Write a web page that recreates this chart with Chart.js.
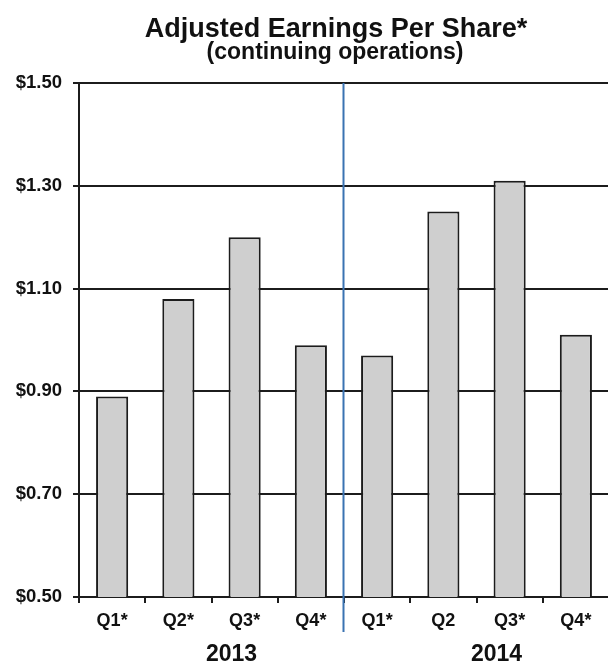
<!DOCTYPE html>
<html><head><meta charset="utf-8">
<script src="https://cdn.jsdelivr.net/npm/chart.js@4/dist/chart.umd.min.js"></script>
<style>
html,body{margin:0;padding:0;overflow:hidden;background:#fff}
#wrap{position:absolute;left:0;top:0;width:610px;height:663px}
</style>
</head><body>
<div id="wrap"><canvas id="c"></canvas></div>
<script>
const categories = ['Q1*','Q2*','Q3*','Q4*','Q1*','Q2','Q3*','Q4*'];
const years = ['2013','2014'];
const eps = [0.89, 1.08, 1.20, 0.99, 0.97, 1.25, 1.31, 1.01];
const yMin = 0.5, yMax = 1.5, yStep = 0.2;
const titleText = 'Adjusted Earnings Per Share*';
const subtitleText = '(continuing operations)';

const FONT = '"Liberation Sans", Arial, Helvetica, sans-serif';
const INK = '#1c1c1c';

const overlay = {
  id: 'overlay',
  afterDraw(chart) {
    const { ctx, chartArea, scales } = chart;
    const px = Math.round(scales.x.getPixelForValue(3.5)) - 0.5;
    ctx.save();
    ctx.strokeStyle = '#3a73b2';
    ctx.lineWidth = 2;
    ctx.beginPath();
    ctx.moveTo(px, chartArea.top);
    ctx.lineTo(px, chartArea.bottom + 35);
    ctx.stroke();
    ctx.fillStyle = '#111';
    ctx.textAlign = 'center';
    ctx.textBaseline = 'alphabetic';
    ctx.font = 'bold 27px ' + FONT;
    ctx.fillText(titleText, 336, 37);
    ctx.font = 'bold 23px ' + FONT;
    ctx.fillText(subtitleText, 335, 59);
    ctx.restore();
  }
};

new Chart(document.getElementById('c'), {
  type: 'bar',
  data: {
    labels: categories,
    datasets: [{
      data: eps,
      backgroundColor: '#cfcfcf',
      borderColor: INK,
      borderWidth: 2,
      barPercentage: 0.485,
      categoryPercentage: 1.0
    }]
  },
  options: {
    responsive: true,
    maintainAspectRatio: false,
    animation: false,
    devicePixelRatio: 1,
    layout: { padding: { top: 83, right: 1, left: 0, bottom: 0 } },
    plugins: { legend: { display: false }, tooltip: { enabled: false }, title: { display: false } },
    scales: {
      x: {
        type: 'category',
        position: 'bottom',
        offset: true,
        grid: { display: true, drawOnChartArea: false, drawTicks: true, tickLength: 6, offset: true, color: INK, lineWidth: 2 },
        border: { display: true, color: INK, width: 2 },
        ticks: { color: '#111', font: { family: FONT, size: 18, weight: 'bold' }, padding: 7, maxRotation: 0, autoSkip: false },
        afterFit(scale) { scale.height = 40; }
      },
      year: {
        type: 'category',
        labels: years,
        position: 'bottom',
        offset: true,
        grid: { display: false, drawTicks: false },
        border: { display: false },
        ticks: { color: '#111', font: { family: FONT, size: 23, weight: 'bold' }, padding: 4, labelOffset: 20, maxRotation: 0, autoSkip: false },
        afterFit(scale) { scale.height = 26; }
      },
      y: {
        min: yMin,
        max: yMax,
        grid: { color: INK, lineWidth: 2, drawTicks: true, tickLength: 6 },
        border: { display: true, color: INK, width: 2 },
        ticks: {
          stepSize: yStep,
          color: '#111',
          font: { family: FONT, size: 18.5, weight: 'bold' },
          padding: 11,
          callback: (v) => '$' + Number(v).toFixed(2)
        },
        afterFit(scale) { scale.width = 79; }
      }
    }
  },
  plugins: [overlay]
});
</script>
</body></html>
